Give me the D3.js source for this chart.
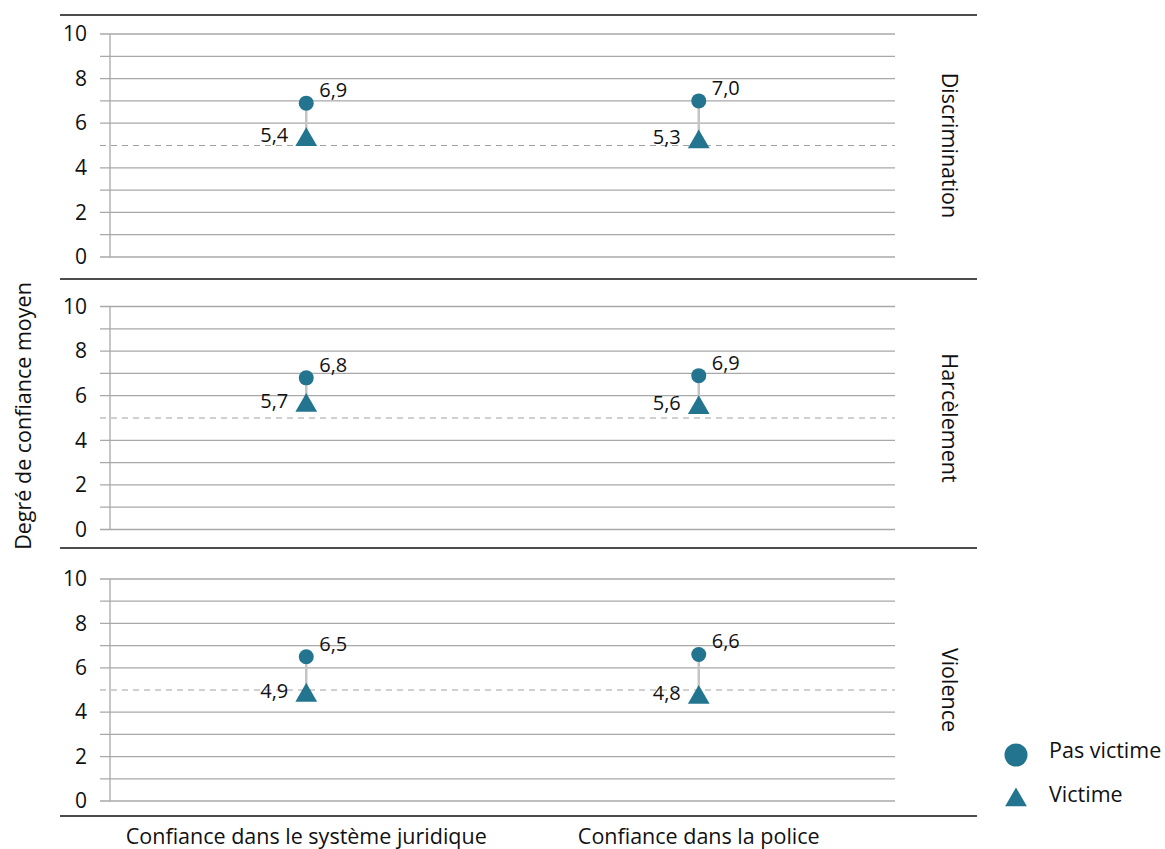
<!DOCTYPE html>
<html>
<head>
<meta charset="utf-8">
<script src="https://cdn.jsdelivr.net/npm/d3@7"></script>
<style>
  body { margin: 0; background: #fff; }
  text { font-family: "Open Sans", "Noto Sans", sans-serif; fill: #111; }
</style>
</head>
<body>
<div class="chart"></div>
<script>
// data
var facets = ["Discrimination", "Harcèlement", "Violence"];
var categories = ["Confiance dans le système juridique", "Confiance dans la police"];
var pasVictime = [[6.9, 7.0], [6.8, 6.9], [6.5, 6.6]];
var victime = [[5.4, 5.3], [5.7, 5.6], [4.9, 4.8]];
var yTicks = [0, 2, 4, 6, 8, 10];
var refValue = 5;
var legendLabels = ["Pas victime", "Victime"];

var width = 1165, height = 849;
var teal = "#23758f";
var fmt = function(v) { return d3.format(".1f")(v).replace(".", ","); };

// panel geometry: border top, range of y scale
var panels = [
    {top: 15, y0: 257, y10: 34},
    {top: 279, y0: 529.5, y10: 306.5},
    {top: 548, y0: 801, y10: 579}
];
var panelBottom = 816;

var svg = d3.select(".chart")
  .append("svg")
    .attr("width", width)
    .attr("height", height);

var x = d3.scaleBand()
    .domain(categories)
    .range([110, 895]);

// triangle sized like the reference, shifted so its box is centred on the value
var triSize = 205;
var triShift = Math.sqrt(triSize * 4 / Math.sqrt(3)) * Math.sqrt(3) / 2 / 6;

facets.forEach(function(name, fi) {
    var p = panels[fi];
    var y = d3.scaleLinear().domain([0, 10]).range([p.y0, p.y10]);
    var g = svg.append("g").attr("class", "panel");

    // panel top border
    g.append("line")
        .attr("x1", 60).attr("x2", 977)
        .attr("y1", p.top).attr("y2", p.top)
        .attr("stroke", "#111").attr("stroke-width", 1.5);

    // gridlines at each unit
    g.selectAll(".grid")
        .data(d3.range(0, 11).filter(function(d) { return d !== refValue; }))
        .enter()
        .append("line")
        .attr("x1", 100).attr("x2", 895)
        .attr("y1", function(d) { return y(d); })
        .attr("y2", function(d) { return y(d); })
        .attr("stroke", "#a8a8a8").attr("stroke-width", 1.3);

    // dashed reference
    g.append("line")
        .attr("x1", 100).attr("x2", 895)
        .attr("y1", y(refValue)).attr("y2", y(refValue))
        .attr("stroke", "#a0a0a0").attr("stroke-width", 1)
        .attr("stroke-dasharray", "6,5");

    // vertical axis line
    g.append("line")
        .attr("x1", 110).attr("x2", 110)
        .attr("y1", y(0)).attr("y2", y(10))
        .attr("stroke", "#a8a8a8").attr("stroke-width", 1.3);

    // tick labels
    var axis = g.append("g")
        .attr("transform", "translate(100,0)")
        .call(d3.axisLeft(y).tickValues(yTicks).tickSize(0).tickPadding(13));
    axis.select(".domain").remove();
    axis.selectAll("text")
        .style("font-size", "21px")
        .style("fill", "#111");

    // facet label
    g.append("text")
        .attr("transform", "translate(942," + (y(5)) + ") rotate(90)")
        .attr("text-anchor", "middle")
        .style("font-size", "21.5px")
        .text(name);

    var rows = categories.map(function(c, i) {
        return {cat: c, hi: pasVictime[fi][i], lo: victime[fi][i]};
    });

    var cells = g.selectAll(".cell")
        .data(rows)
        .enter()
        .append("g")
        .attr("class", "cell")
        .attr("transform", function(d) {
            return "translate(" + (x(d.cat) + x.bandwidth() / 2) + ",0)";
        });

    cells.append("line")
        .attr("y1", function(d) { return y(d.hi); })
        .attr("y2", function(d) { return y(d.lo); })
        .attr("stroke", "#c4c4c4").attr("stroke-width", 2.5);

    cells.append("circle")
        .attr("cy", function(d) { return y(d.hi); })
        .attr("r", 7.5)
        .style("fill", teal);

    cells.append("path")
        .attr("d", d3.symbol().type(d3.symbolTriangle).size(triSize))
        .attr("transform", function(d) { return "translate(0," + (y(d.lo) + triShift) + ")"; })
        .style("fill", teal);

    cells.append("text")
        .attr("x", 13)
        .attr("y", function(d) { return y(d.hi) - 6; })
        .style("font-size", "20px")
        .text(function(d) { return fmt(d.hi); });

    cells.append("text")
        .attr("x", -18)
        .attr("y", function(d) { return y(d.lo) + 5.5; })
        .attr("text-anchor", "end")
        .style("font-size", "20px")
        .text(function(d) { return fmt(d.lo); });
});

// bottom border
svg.append("line")
    .attr("x1", 60).attr("x2", 977)
    .attr("y1", panelBottom).attr("y2", panelBottom)
    .attr("stroke", "#111").attr("stroke-width", 1.5);

// x labels
svg.selectAll(".xlab")
    .data(categories)
    .enter()
    .append("text")
    .attr("x", function(d) { return x(d) + x.bandwidth() / 2; })
    .attr("y", 844)
    .attr("text-anchor", "middle")
    .style("font-size", "21.5px")
    .text(function(d) { return d; });

// y title
svg.append("text")
    .attr("transform", "translate(31,416) rotate(-90)")
    .attr("text-anchor", "middle")
    .style("font-size", "21.5px")
    .text("Degré de confiance moyen");

// legend
var legend = svg.append("g").attr("transform", "translate(1016,0)");
legend.append("circle").attr("cy", 755).attr("r", 11.5).style("fill", teal);
legend.append("path")
    .attr("d", d3.symbol().type(d3.symbolTriangle).size(205))
    .attr("transform", "translate(0,800)")
    .style("fill", teal);
legend.selectAll("text")
    .data(legendLabels)
    .enter()
    .append("text")
    .attr("x", 33)
    .attr("y", function(d, i) { return 758 + i * 44; })
    .style("font-size", "21.5px")
    .text(function(d) { return d; });
</script>
</body>
</html>
